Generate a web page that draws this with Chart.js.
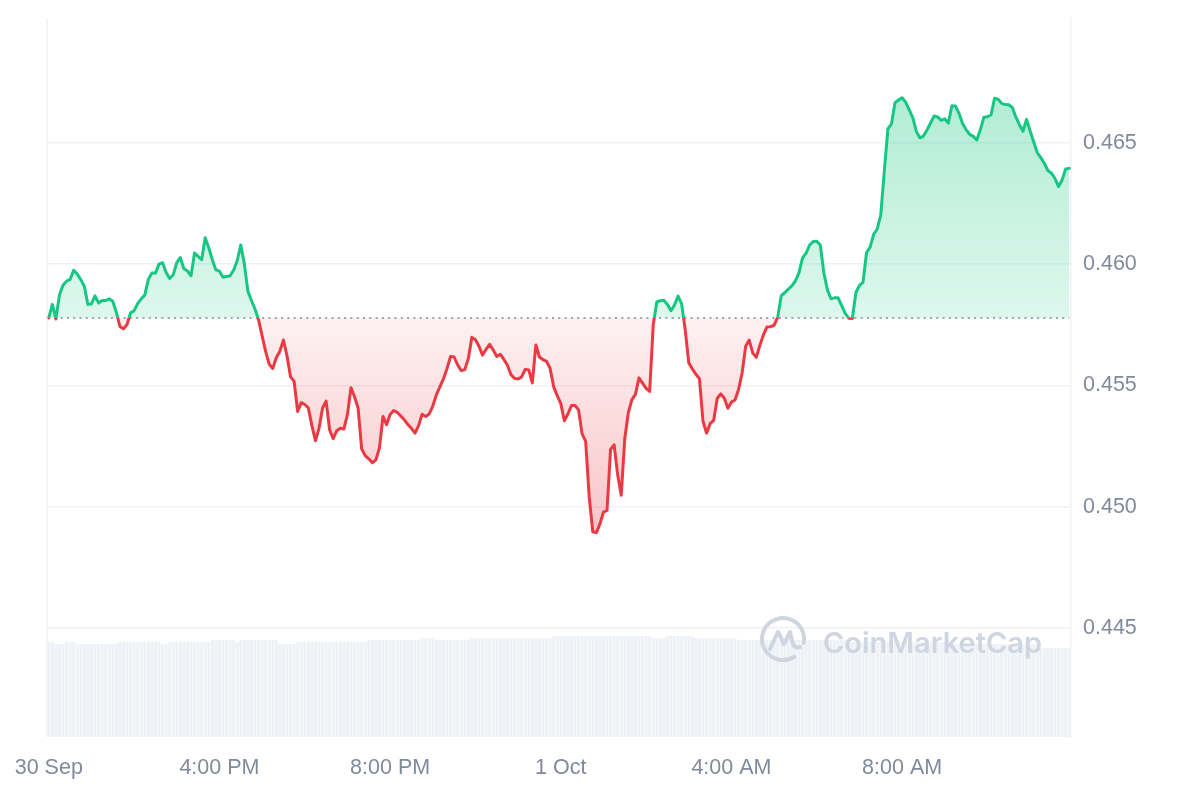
<!DOCTYPE html>
<html>
<head>
<meta charset="utf-8">
<script src="https://cdn.jsdelivr.net/npm/chart.js@4/dist/chart.umd.min.js"></script>
<style>
  html, body { margin: 0; padding: 0; background: #fff; }
  #wrap { width: 1200px; height: 800px; }
</style>
</head>
<body>
<div id="wrap"><canvas id="priceChart" width="1200" height="800"></canvas></div>
<script>
// 5 minute candles, 30 Sep 12:00 PM -> 1 Oct 12:00 PM (one row = one hour)
const prices = [
  0.45778, 0.45834, 0.45774, 0.45873, 0.45913, 0.45930, 0.45937, 0.45975, 0.45959, 0.45936, 0.45909, 0.45834,
  0.45836, 0.45869, 0.45840, 0.45850, 0.45850, 0.45857, 0.45847, 0.45801, 0.45743, 0.45733, 0.45751, 0.45799,
  0.45808, 0.45837, 0.45857, 0.45872, 0.45937, 0.45963, 0.45963, 0.46000, 0.46006, 0.45966, 0.45941, 0.45956,
  0.46006, 0.46027, 0.45981, 0.45972, 0.45952, 0.46046, 0.46032, 0.46018, 0.46109, 0.46067, 0.46018, 0.45976,
  0.45971, 0.45946, 0.45949, 0.45952, 0.45976, 0.46015, 0.46079, 0.46001, 0.45888, 0.45850, 0.45815, 0.45770,
  0.45704, 0.45639, 0.45587, 0.45570, 0.45615, 0.45641, 0.45687, 0.45622, 0.45535, 0.45517, 0.45392, 0.45429,
  0.45421, 0.45407, 0.45334, 0.45272, 0.45322, 0.45407, 0.45435, 0.45316, 0.45280, 0.45313, 0.45323, 0.45320,
  0.45380, 0.45490, 0.45453, 0.45406, 0.45238, 0.45210, 0.45197, 0.45181, 0.45193, 0.45242, 0.45372, 0.45338,
  0.45380, 0.45396, 0.45389, 0.45374, 0.45358, 0.45338, 0.45323, 0.45303, 0.45334, 0.45381, 0.45372, 0.45382,
  0.45415, 0.45461, 0.45494, 0.45527, 0.45569, 0.45619, 0.45617, 0.45584, 0.45561, 0.45565, 0.45611, 0.45698,
  0.45688, 0.45661, 0.45625, 0.45649, 0.45669, 0.45646, 0.45619, 0.45628, 0.45607, 0.45583, 0.45544, 0.45529,
  0.45526, 0.45535, 0.45566, 0.45564, 0.45510, 0.45667, 0.45617, 0.45606, 0.45599, 0.45570, 0.45494, 0.45458,
  0.45426, 0.45354, 0.45382, 0.45417, 0.45417, 0.45399, 0.45300, 0.45269, 0.45040, 0.44896, 0.44893, 0.44928,
  0.44977, 0.44984, 0.45236, 0.45255, 0.45131, 0.45047, 0.45281, 0.45388, 0.45441, 0.45463, 0.45531, 0.45509,
  0.45488, 0.45475, 0.45749, 0.45844, 0.45849, 0.45851, 0.45833, 0.45808, 0.45832, 0.45868, 0.45836, 0.45729,
  0.45593, 0.45568, 0.45546, 0.45528, 0.45352, 0.45303, 0.45342, 0.45356, 0.45446, 0.45465, 0.45447, 0.45406,
  0.45431, 0.45440, 0.45483, 0.45551, 0.45661, 0.45687, 0.45633, 0.45616, 0.45666, 0.45708, 0.45741, 0.45742,
  0.45748, 0.45780, 0.45870, 0.45882, 0.45897, 0.45910, 0.45931, 0.45965, 0.46026, 0.46045, 0.46079, 0.46093,
  0.46094, 0.46078, 0.45963, 0.45894, 0.45857, 0.45861, 0.45861, 0.45829, 0.45797, 0.45777, 0.45776, 0.45883,
  0.45912, 0.45925, 0.46047, 0.46070, 0.46123, 0.46145, 0.46203, 0.46385, 0.46558, 0.46578, 0.46666, 0.46677,
  0.46686, 0.46668, 0.46636, 0.46604, 0.46547, 0.46521, 0.46528, 0.46553, 0.46582, 0.46611, 0.46607, 0.46593,
  0.46599, 0.46582, 0.46653, 0.46652, 0.46622, 0.46580, 0.46555, 0.46535, 0.46527, 0.46512, 0.46554, 0.46606,
  0.46608, 0.46615, 0.46684, 0.46680, 0.46663, 0.46658, 0.46657, 0.46646, 0.46606, 0.46575, 0.46548, 0.46597,
  0.46549, 0.46505, 0.46460, 0.46439, 0.46416, 0.46386, 0.46375, 0.46353, 0.46320, 0.46347, 0.46392, 0.46395
];

// volume per candle (relative units)
const volumes = [
  9.5, 9.5, 9.3, 9.3, 9.3, 9.5, 9.5, 9.5, 9.3, 9.3, 9.3, 9.3,
  9.3, 9.3, 9.3, 9.3, 9.3, 9.3, 9.3, 9.3, 9.5, 9.5, 9.5, 9.5,
  9.5, 9.5, 9.5, 9.5, 9.5, 9.5, 9.5, 9.5, 9.3, 9.3, 9.5, 9.5,
  9.5, 9.5, 9.5, 9.5, 9.5, 9.5, 9.5, 9.5, 9.5, 9.5, 9.7, 9.7,
  9.7, 9.7, 9.7, 9.7, 9.7, 9.5, 9.7, 9.7, 9.7, 9.7, 9.7, 9.7,
  9.7, 9.7, 9.7, 9.7, 9.7, 9.3, 9.3, 9.3, 9.3, 9.3, 9.5, 9.5,
  9.5, 9.5, 9.5, 9.5, 9.5, 9.5, 9.5, 9.5, 9.5, 9.5, 9.5, 9.5,
  9.5, 9.5, 9.5, 9.5, 9.5, 9.5, 9.7, 9.7, 9.7, 9.7, 9.7, 9.7,
  9.7, 9.7, 9.7, 9.7, 9.7, 9.7, 9.7, 9.7, 9.7, 9.9, 9.9, 9.9,
  9.9, 9.7, 9.7, 9.7, 9.7, 9.7, 9.7, 9.7, 9.7, 9.7, 9.7, 9.9,
  9.9, 9.9, 9.9, 9.9, 9.9, 9.9, 9.9, 9.9, 9.9, 9.9, 9.9, 9.9,
  9.9, 9.9, 9.9, 9.9, 9.9, 9.9, 9.9, 9.9, 9.9, 9.9, 10.1, 10.1,
  10.1, 10.1, 10.1, 10.1, 10.1, 10.1, 10.1, 10.1, 10.1, 10.1, 10.1, 10.1,
  10.1, 10.1, 10.1, 10.1, 10.1, 10.1, 10.1, 10.1, 10.1, 10.1, 10.1, 10.1,
  10.1, 10.1, 9.9, 9.9, 9.9, 9.9, 10.1, 10.1, 10.1, 10.1, 10.1, 10.1,
  10.1, 10.1, 9.9, 9.9, 9.9, 9.9, 9.9, 9.9, 9.9, 9.9, 9.9, 9.9,
  9.9, 9.9, 9.7, 9.7, 9.7, 9.7, 9.7, 9.7, 9.7, 9.7, 9.7, 9.7,
  9.7, 9.7, 9.7, 9.7, 9.7, 9.7, 9.7, 9.7, 9.7, 9.7, 9.7, 9.7,
  9.7, 9.7, 9.7, 9.7, 9.7, 9.7, 9.7, 9.7, 9.7, 9.7, 9.5, 9.5,
  9.5, 9.5, 9.5, 9.5, 9.5, 9.5, 9.5, 9.5, 9.5, 9.5, 9.5, 9.5,
  9.5, 9.5, 9.5, 9.5, 9.5, 9.5, 9.5, 9.5, 9.5, 9.5, 9.5, 9.5,
  9.5, 9.5, 9.3, 9.3, 9.3, 9.3, 9.3, 9.3, 9.3, 9.3, 9.3, 9.3,
  9.3, 9.3, 9.3, 9.3, 9.3, 9.3, 9.3, 9.3, 9.3, 9.3, 9.3, 9.3,
  9.3, 9.3, 9.3, 8.9, 8.9, 8.9, 8.9, 8.9, 8.9, 8.9, 8.9, 8.9
];

const tickLabels = ['30 Sep', '4:00 PM', '8:00 PM', '1 Oct', '4:00 AM', '8:00 AM'];
const pointsPerTick = 48; // 4 hours of 5 min points
const yTicks = [0.445, 0.450, 0.455, 0.460, 0.465];
const yMin = 0.4405;
const yMax = 0.47015;

const GREEN = '#16c784';
const RED = '#ea3943';
const openPrice = prices[0];

Chart.defaults.font.family = "'Liberation Sans', Arial, sans-serif";
Chart.defaults.font.size = 21.5;
Chart.defaults.color = '#808a9d';

// vertical gradient with a hard switch at the opening price
function splitGradient(chart, topCols, bottomCols) {
  const { ctx, chartArea, scales } = chart;
  if (!chartArea) return topCols[0];
  const yb = scales.y.getPixelForValue(openPrice);
  let f = (yb - chartArea.top) / (chartArea.bottom - chartArea.top);
  f = Math.min(Math.max(f, 0), 1);
  const g = ctx.createLinearGradient(0, chartArea.top, 0, chartArea.bottom);
  g.addColorStop(0, topCols[0]);
  g.addColorStop(f, topCols[1]);
  g.addColorStop(f, bottomCols[0]);
  g.addColorStop(1, bottomCols[1]);
  return g;
}

const openLine = {
  id: 'openLine',
  beforeDatasetsDraw(chart) {
    const { ctx, chartArea } = chart;
    const y = chart.scales.y.getPixelForValue(openPrice);
    const pts = chart.getDatasetMeta(0).data;
    ctx.save();
    ctx.setLineDash([2, 4.3]);
    ctx.strokeStyle = '#9ea5b1';
    ctx.lineWidth = 2;
    ctx.beginPath();
    ctx.moveTo(chartArea.left + 1, y);
    ctx.lineTo(pts[pts.length - 1].x, y);
    ctx.stroke();
    ctx.restore();
  }
};

const leftEdge = {
  id: 'leftEdge',
  beforeDatasetsDraw(chart) {
    const { ctx, chartArea } = chart;
    ctx.save();
    ctx.strokeStyle = '#eff2f5';
    ctx.lineWidth = 1.5;
    ctx.beginPath();
    ctx.moveTo(chartArea.left, chartArea.top);
    ctx.lineTo(chartArea.left, chartArea.bottom);
    ctx.stroke();
    ctx.restore();
  }
};

const watermark = {
  id: 'watermark',
  afterDatasetsDraw(chart) {
    const { ctx, chartArea } = chart;
    const cx = chartArea.right - 288;
    const cy = chartArea.bottom - 98;
    ctx.save();
    ctx.strokeStyle = '#cfd5e1';
    ctx.fillStyle = '#cfd5e1';
    ctx.lineWidth = 4;
    ctx.lineCap = 'round';
    ctx.lineJoin = 'round';
    ctx.beginPath();
    ctx.arc(cx, cy, 21, 0.32 * Math.PI, 2.06 * Math.PI);
    ctx.stroke();
    ctx.beginPath();
    ctx.moveTo(cx - 13, cy + 10);
    ctx.lineTo(cx - 5, cy - 7);
    ctx.lineTo(cx + 1, cy + 5);
    ctx.lineTo(cx + 7, cy - 7);
    ctx.lineTo(cx + 10, cy + 5);
    ctx.quadraticCurveTo(cx + 12, cy + 10, cx + 17, cy + 8);
    ctx.stroke();
    ctx.font = "600 29px Inter, 'Liberation Sans', sans-serif";
    ctx.textBaseline = 'alphabetic';
    ctx.fillText('CoinMarketCap', chartArea.right - 248, chartArea.bottom - 84);
    ctx.restore();
  }
};

new Chart(document.getElementById('priceChart'), {
  type: 'line',
  data: {
    labels: prices.map((_, i) => i),
    datasets: [
      {
        type: 'line',
        label: 'Price',
        data: prices,
        yAxisID: 'y',
        order: 1,
        borderWidth: 3,
        pointRadius: 0,
        tension: 0,
        borderJoinStyle: 'round',
        borderCapStyle: 'round',
        fill: { value: openPrice },
        borderColor: c => splitGradient(c.chart, [GREEN, GREEN], [RED, RED]),
        backgroundColor: c => splitGradient(c.chart,
          ['rgba(22,199,132,0.40)', 'rgba(22,199,132,0.14)'],
          ['rgba(234,57,67,0.07)', 'rgba(234,57,67,0.50)'])
      },
      {
        type: 'bar',
        label: 'Volume',
        data: volumes,
        yAxisID: 'v',
        order: 2,
        backgroundColor: '#eef1f5',
        barPercentage: 0.86,
        categoryPercentage: 1
      }
    ]
  },
  options: {
    responsive: false,
    animation: false,
    layout: { padding: { left: 47, top: 18, right: 0, bottom: 0 } },
    plugins: { legend: { display: false }, tooltip: { enabled: false } },
    scales: {
      x: {
        type: 'category',
        offset: true,
        grid: { display: false, drawTicks: false },
        border: { display: false },
        ticks: {
          autoSkip: false,
          maxRotation: 0,
          padding: 18,
          callback: (v, i) => (i % pointsPerTick === 0 ? tickLabels[i / pointsPerTick] : null)
        },
        afterFit: s => { s.height = 63; s.paddingLeft = 0; s.paddingRight = 0; }
      },
      y: {
        position: 'right',
        min: yMin,
        max: yMax,
        grid: { color: '#eff2f5', lineWidth: 1.5, drawTicks: false },
        border: { display: true, color: '#eff2f5', width: 1.5 },
        ticks: { padding: 12, callback: v => v.toFixed(3) },
        afterBuildTicks: s => { s.ticks = yTicks.map(v => ({ value: v })); },
        afterFit: s => { s.width = 129; s.paddingTop = 0; s.paddingBottom = 0; }
      },
      v: { display: false, min: 0, max: 71.9 }
    }
  },
  plugins: [leftEdge, openLine, watermark]
});
</script>
</body>
</html>
